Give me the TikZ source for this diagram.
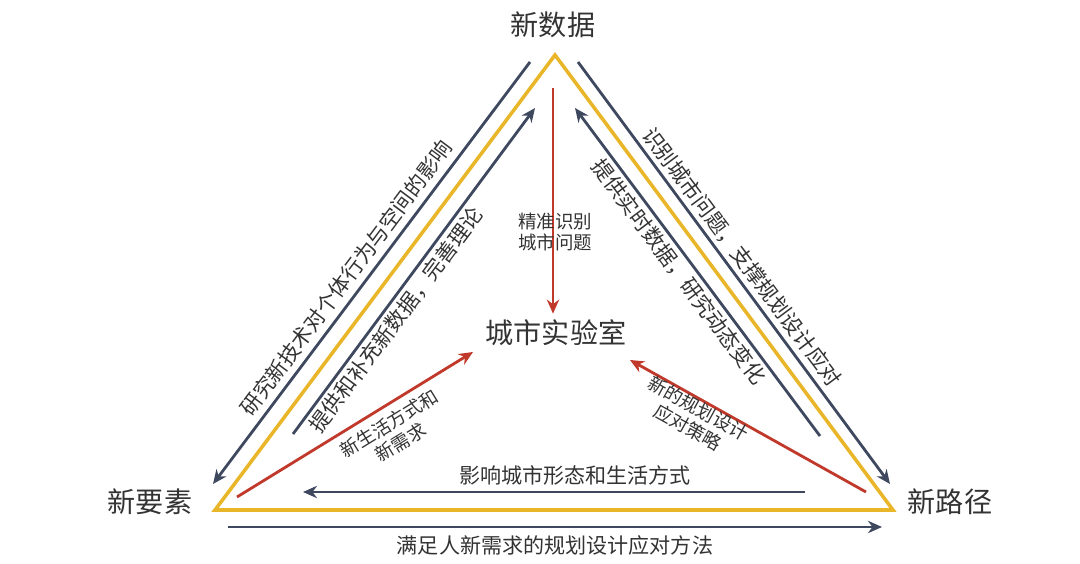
\documentclass[tikz,border=0pt]{standalone}
\usepackage{fontspec}
\setmainfont{Noto Sans CJK SC}
\usetikzlibrary{arrows.meta}
\definecolor{navy}{RGB}{62,72,94}
\definecolor{brick}{RGB}{192,57,43}
\definecolor{gold}{RGB}{232,182,40}
\tikzset{
  navyarrow/.style={draw=navy,line width=1.6pt,-{Stealth[length=8pt,width=7pt]}},
  redarrow/.style={draw=brick,line width=1.6pt,-{Stealth[length=8pt,width=7pt]}},
  corner/.style={font=\fontsize{16}{18}\selectfont,text=black!80},
  edgelabel/.style={font=\fontsize{12}{14}\selectfont,text=black!80},
  smalllabel/.style={font=\fontsize{10.5}{12.5}\selectfont,text=black!80,align=center}
}
\begin{document}
\begin{tikzpicture}[x=0.02cm,y=-0.02cm]
\useasboundingbox (0,0) rectangle (1080,564);
% Vertices
\coordinate (top) at (555,55);
\coordinate (left) at (215,510);
\coordinate (right) at (893,510);
\node[corner] (data) at (553,25) {新数据};
\node[corner] (factor) at (150,502) {新要素};
\node[corner] (path) at (950,502) {新路径};
\node[corner] (lab) at (556,333) {城市实验室};
%Triangle
\draw[gold,line width=2pt,line join=miter] (top) -- (left) -- (right) -- cycle;
%Edge arrows
\coordinate (lo1) at (530,62); \coordinate (lo2) at (213,484);
\coordinate (li1) at (293,434); \coordinate (li2) at (535,108);
\coordinate (ro1) at (578,62); \coordinate (ro2) at (890,484);
\coordinate (ri1) at (820,436); \coordinate (ri2) at (575,108);
\coordinate (bi1) at (805,492); \coordinate (bi2) at (303,492);
\coordinate (bo1) at (228,527); \coordinate (bo2) at (882,527);
\draw[navyarrow] (lo1) -- (lo2);
\draw[navyarrow] (li1) -- (li2);
\draw[navyarrow] (ro1) -- (ro2);
\draw[navyarrow] (ri1) -- (ri2);
\draw[navyarrow] (bi1) -- (bi2);
\draw[navyarrow] (bo1) -- (bo2);
%Center arrows
\coordinate (rv) at (553,88);
\coordinate (rl) at (237,497);
\coordinate (rr) at (866,492);
\draw[redarrow] (rv) -- (lab.north -| rv);
\draw[redarrow] (rl) -- (473,352);
\draw[redarrow] (rr) -- (630,360);
%Labels
\node[smalllabel] (find) at (555,232) {精准识别\\城市问题};
\node[smalllabel,rotate=31.6] (life) at (395,433) {新生活方式和\\新需求};
\node[smalllabel,rotate=-29] (plan) at (693,418) {新的规划设计\\应对策略};
\node[edgelabel] (shape) at (575,475) {影响城市形态和生活方式};
\node[edgelabel] (meet) at (555,545) {满足人新需求的规划设计应对方法};
\node[edgelabel,rotate=53.2] (study) at (346,278) {研究新技术对个体行为与空间的影响};
\node[edgelabel,rotate=53.2] (supply) at (396,320) {提供和补充新数据，完善理论};
\node[edgelabel,rotate=-53.2] (ident) at (742,257) {识别城市问题，支撑规划设计应对};
\node[edgelabel,rotate=-53.2] (real) at (679,272) {提供实时数据，研究动态变化};
\end{tikzpicture}
\end{document}
